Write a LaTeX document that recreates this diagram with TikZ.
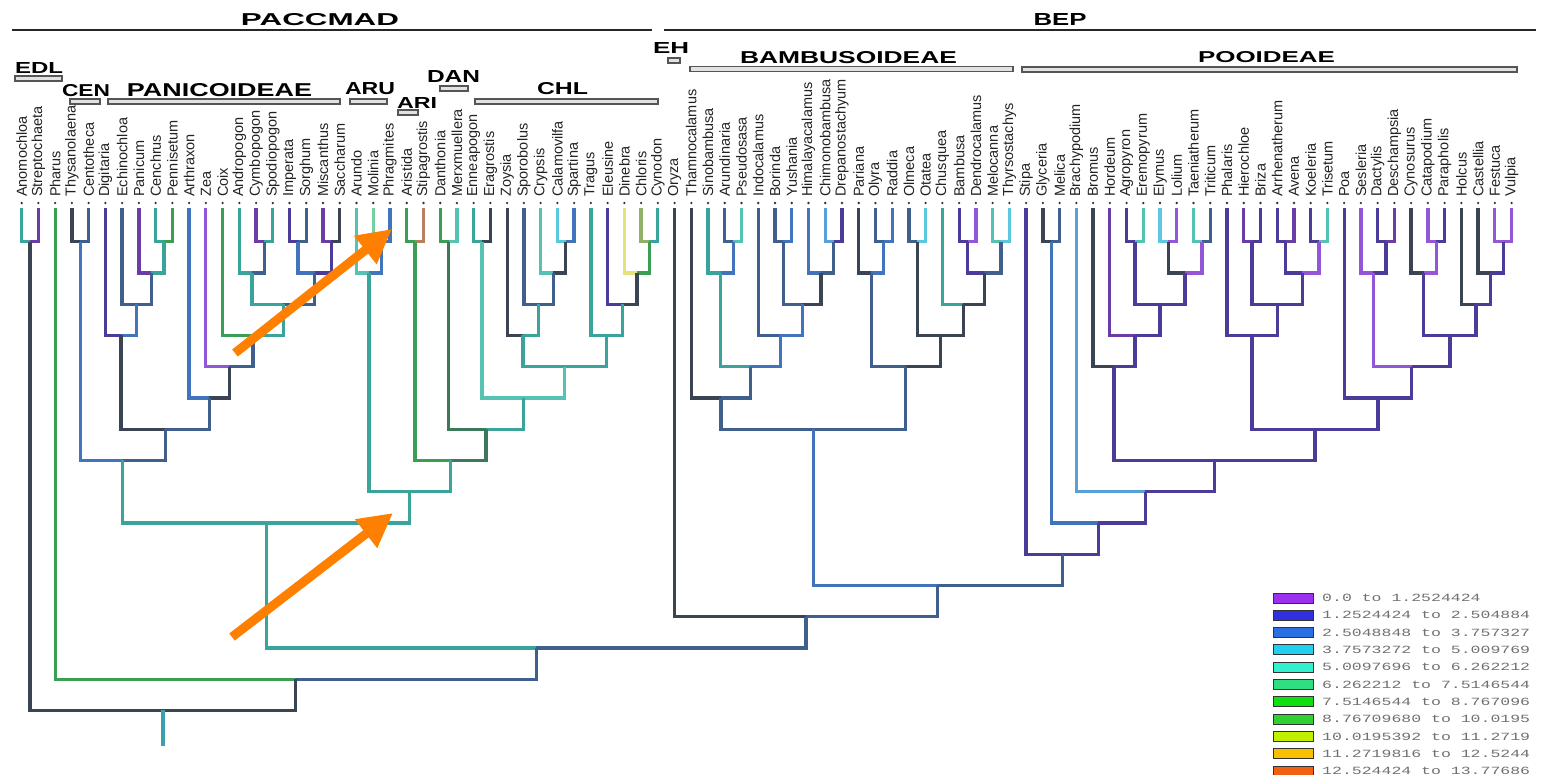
\documentclass[tikz,border=0pt]{standalone}
\usepackage{fontspec}
\setmainfont{Liberation Sans}
\newfontfamily\legfont{Liberation Mono}
\usetikzlibrary{arrows.meta}
\definecolor{cslate}{HTML}{3C4F63}
\definecolor{csblue}{HTML}{3F5F8F}
\definecolor{cblue}{HTML}{4274BB}
\definecolor{clblue}{HTML}{5AA0D8}
\definecolor{ccyan}{HTML}{5CC8E0}
\definecolor{cteal}{HTML}{3AA39A}
\definecolor{clteal}{HTML}{56C2B4}
\definecolor{cgreen}{HTML}{3C9E52}
\definecolor{cdgreen}{HTML}{3A7A5A}
\definecolor{clgreen}{HTML}{74D0A0}
\definecolor{cpurple}{HTML}{6A3DA6}
\definecolor{cviolet}{HTML}{9356D6}
\definecolor{cindigo}{HTML}{4A3C98}
\definecolor{cdslate}{HTML}{3A4452}
\definecolor{cyellow}{HTML}{E6E27A}
\definecolor{colive}{HTML}{90B06A}
\definecolor{cbrown}{HTML}{B88060}
\definecolor{croot}{HTML}{3AA0B0}
\definecolor{labgray}{HTML}{222222}
\definecolor{leggray}{HTML}{707070}
\definecolor{barfill}{HTML}{E2E2E2}
\definecolor{bargray}{HTML}{555555}
\definecolor{arrorange}{HTML}{FF8000}
\definecolor{lg1}{HTML}{9A30F0}
\definecolor{lg2}{HTML}{3030E0}
\definecolor{lg3}{HTML}{2A70E0}
\definecolor{lg4}{HTML}{20D0F0}
\definecolor{lg5}{HTML}{30F0D0}
\definecolor{lg6}{HTML}{30E080}
\definecolor{lg7}{HTML}{10E010}
\definecolor{lg8}{HTML}{30D030}
\definecolor{lg9}{HTML}{C0F000}
\definecolor{lg10}{HTML}{F8C000}
\definecolor{lg11}{HTML}{F06010}
\tikzset{
  br/.style={line width=3.3pt, line join=miter},
  tiplab/.style={rotate=90, anchor=west, inner sep=0pt, text=labgray, font=\fontsize{14.5}{16}\selectfont},
  grp/.style={inner sep=0pt, font=\bfseries, text=black},
  grpbar/.style={draw=bargray, fill=barfill, line width=1.3pt},
  hl/.style={line width=2.6pt, draw=black!85},
  legbox/.style={draw=black!80, line width=1pt, minimum width=40pt, minimum height=10pt, inner sep=0pt},
  legtxt/.style={anchor=west, inner sep=0pt, text=leggray, font=\legfont\fontsize{11}{12}\selectfont},
  orarrow/.style={draw=arrorange, line width=9pt, -{Triangle[length=34pt,width=34pt]}}
}
\newcommand\Tp[2]{\node[tiplab] (t#1) at (#1,197) {#2};\fill[black!80] (#1,203) circle[radius=1.3pt];\coordinate (a#1) at (#1,208);}
\newcommand\Nd[3]{\coordinate (#1) at (#2,{241.7+31.25*#3});}
\newcommand\Ed[3]{\draw[br,#1] (#2) |- (#3);}
\begin{document}
\begin{tikzpicture}[x=1pt,y=-1pt]
\useasboundingbox (0,0) rectangle (1544,774);
% ---------- headers ----------
\node[grp] (hpacc) at (320,19.5) {\resizebox{158pt}{12pt}{PACCMAD}};
\node[grp] (hbep) at (1060,19.5) {\resizebox{53pt}{12pt}{BEP}};
\coordinate (hl1a) at (12,30); \coordinate (hl1b) at (652,30);
\coordinate (hl2a) at (664,30); \coordinate (hl2b) at (1536,30);
\draw[hl] (hl1a) -- (hl1b);
\draw[hl] (hl2a) -- (hl2b);
\node[grp] (gedl) at (39,67.5) {\resizebox{48pt}{11pt}{EDL}};
\draw[grpbar] (15,76) rectangle (62,81);
\node[grp] (gcen) at (86,91) {\resizebox{48pt}{12pt}{CEN}};
\draw[grpbar] (70,99) rectangle (100,104);
\node[grp] (gpan) at (219.5,90) {\resizebox{185pt}{13pt}{PANICOIDEAE}};
\draw[grpbar] (108,99) rectangle (340,104);
\node[grp] (garu) at (370,89) {\resizebox{50pt}{12pt}{ARU}};
\draw[grpbar] (350,99) rectangle (387,104);
\node[grp] (gari) at (417,102.5) {\resizebox{40pt}{11pt}{ARI}};
\draw[grpbar] (398,110) rectangle (418,115);
\node[grp] (gdan) at (453.5,76) {\resizebox{53pt}{12pt}{DAN}};
\draw[grpbar] (440,86) rectangle (468,91);
\node[grp] (gchl) at (562.5,89) {\resizebox{51pt}{12pt}{CHL}};
\draw[grpbar] (475,99) rectangle (658,104);
\node[grp] (geh) at (671,48) {\resizebox{36pt}{11pt}{EH}};
\draw[grpbar] (668,58) rectangle (680,63);
\node[grp] (gbam) at (848.5,58) {\resizebox{217pt}{12pt}{BAMBUSOIDEAE}};
\draw[grpbar] (690,66.5) rectangle (1013,71.5);
\node[grp] (gpoo) at (1266.5,57.5) {\resizebox{137pt}{11pt}{POOIDEAE}};
\draw[grpbar] (1022,67) rectangle (1517,72);
% ---------- tree ----------
\begin{scope}[x=16.74pt, xshift=4.96pt]
\Tp{1}{Anomochloa}\Tp{2}{Streptochaeta}\Tp{3}{Pharus}\Tp{4}{Thysanolaena}\Tp{5}{Centotheca}
\Tp{6}{Digitaria}\Tp{7}{Echinochloa}\Tp{8}{Panicum}\Tp{9}{Cenchrus}\Tp{10}{Pennisetum}
\Tp{11}{Arthraxon}\Tp{12}{Zea}\Tp{13}{Coix}\Tp{14}{Andropogon}\Tp{15}{Cymbopogon}
\Tp{16}{Spodiopogon}\Tp{17}{Imperata}\Tp{18}{Sorghum}\Tp{19}{Miscanthus}\Tp{20}{Saccharum}
\Tp{21}{Arundo}\Tp{22}{Molinia}\Tp{23}{Phragmites}\Tp{24}{Aristida}\Tp{25}{Stipagrostis}
\Tp{26}{Danthonia}\Tp{27}{Merxmuellera}\Tp{28}{Enneapogon}\Tp{29}{Eragrostis}\Tp{30}{Zoysia}
\Tp{31}{Sporobolus}\Tp{32}{Crypsis}\Tp{33}{Calamovilfa}\Tp{34}{Spartina}\Tp{35}{Tragus}
\Tp{36}{Eleusine}\Tp{37}{Dinebra}\Tp{38}{Chloris}\Tp{39}{Cynodon}\Tp{40}{Oryza}
\Tp{41}{Thamnocalamus}\Tp{42}{Sinobambusa}\Tp{43}{Arundinaria}\Tp{44}{Pseudosasa}\Tp{45}{Indocalamus}
\Tp{46}{Borinda}\Tp{47}{Yushania}\Tp{48}{Himalayacalamus}\Tp{49}{Chimonobambusa}\Tp{50}{Drepanostachyum}
\Tp{51}{Pariana}\Tp{52}{Olyra}\Tp{53}{Raddia}\Tp{54}{Olmeca}\Tp{55}{Otatea}
\Tp{56}{Chusquea}\Tp{57}{Bambusa}\Tp{58}{Dendrocalamus}\Tp{59}{Melocanna}\Tp{60}{Thyrsostachys}
\Tp{61}{Stipa}\Tp{62}{Glyceria}\Tp{63}{Melica}\Tp{64}{Brachypodium}\Tp{65}{Bromus}
\Tp{66}{Hordeum}\Tp{67}{Agropyron}\Tp{68}{Eremopyrum}\Tp{69}{Elymus}\Tp{70}{Lolium}
\Tp{71}{Taeniatherum}\Tp{72}{Triticum}\Tp{73}{Phalaris}\Tp{74}{Hierochloe}\Tp{75}{Briza}
\Tp{76}{Arrhenatherum}\Tp{77}{Avena}\Tp{78}{Koeleria}\Tp{79}{Trisetum}\Tp{80}{Poa}
\Tp{81}{Sesleria}\Tp{82}{Dactylis}\Tp{83}{Deschampsia}\Tp{84}{Cynosurus}\Tp{85}{Catapodium}
\Tp{86}{Parapholis}\Tp{87}{Holcus}\Tp{88}{Castellia}\Tp{89}{Festuca}\Tp{90}{Vulpia}
% internal nodes: PACCMAD
\Nd{nA}{1.5}{0}\Nd{nB}{4.5}{0}\Nd{nC}{9.5}{0}\Nd{nD}{8.75}{1}\Nd{nE}{7.875}{2}
\Nd{nF}{6.9375}{3}\Nd{nG}{15.5}{0}\Nd{nH}{14.75}{1}\Nd{nI}{17.5}{0}\Nd{nJ}{19.5}{0}
\Nd{nK}{18.5}{1}\Nd{nL}{16.625}{2}\Nd{nM}{14.8125}{3}\Nd{nN}{13.40625}{4}\Nd{nO}{12.203}{5}
\Nd{pan}{9.570}{6}\Nd{panc}{7.035}{7}
\Nd{aruA}{22.5}{0}\Nd{aru}{21.75}{1}\Nd{ari}{24.5}{0}\Nd{dan}{26.5}{0}
\Nd{chA}{28.5}{0}\Nd{chB}{33.5}{0}\Nd{chC}{32.75}{1}\Nd{chD}{31.875}{2}\Nd{chE}{30.9375}{3}
\Nd{chF}{38.5}{0}\Nd{chG}{37.75}{1}\Nd{chH}{36.875}{2}\Nd{chI}{35.9375}{3}\Nd{chl}{33.4375}{4}
\Nd{chJ}{30.96875}{5}\Nd{dc}{28.734}{6}\Nd{adc}{26.617}{7}\Nd{acd}{24.18}{8}\Nd{pacc}{15.61}{9}
% Bambusoideae
\Nd{bA}{43.5}{0}\Nd{bB}{42.75}{1}\Nd{bC}{46.5}{0}\Nd{bD}{49.5}{0}\Nd{bE}{48.75}{1}
\Nd{bF}{47.625}{2}\Nd{bG}{46.3125}{3}\Nd{bH}{44.53}{4}\Nd{bI}{42.766}{5}
\Nd{bJ}{52.5}{0}\Nd{bK}{51.75}{1}\Nd{bL}{54.5}{0}\Nd{bM}{57.5}{0}\Nd{bN}{59.5}{0}
\Nd{bO}{58.5}{1}\Nd{bP}{57.25}{2}\Nd{bQ}{55.875}{3}\Nd{bR}{53.8125}{4}\Nd{bamb}{48.289}{6}
% Pooideae
\Nd{pA}{62.5}{0}\Nd{pB}{67.5}{0}\Nd{pC}{69.5}{0}\Nd{pD}{71.5}{0}\Nd{pE}{70.5}{1}
\Nd{pF}{69}{2}\Nd{pG}{67.5}{3}\Nd{pH}{66.25}{4}\Nd{pI}{74.5}{0}\Nd{pJ}{76.5}{0}
\Nd{pK}{78.5}{0}\Nd{pL}{77.5}{1}\Nd{pM}{76}{2}\Nd{pN}{74.5}{3}\Nd{pO}{82.5}{0}
\Nd{pP}{81.75}{1}\Nd{pQ}{85.5}{0}\Nd{pR}{84.75}{1}\Nd{pS}{89.5}{0}\Nd{pT}{88.75}{1}
\Nd{pU}{87.875}{2}\Nd{pV}{86.3125}{3}\Nd{pW}{84.03}{4}\Nd{pX}{82.016}{5}\Nd{pY}{78.258}{6}
\Nd{pZ}{72.254}{7}\Nd{pAA}{68.127}{8}\Nd{pBB}{65.31}{9}\Nd{pooid}{63.16}{10}
\Nd{bp}{55.72}{11}\Nd{obp}{47.86}{12}\Nd{pb}{31.735}{13}\Nd{phpb}{17.37}{14}\Nd{root}{9.435}{15}
\coordinate (rootend) at (9.435,746);
% edges PACCMAD
\Ed{cteal}{a1}{nA}\Ed{cpurple}{a2}{nA}
\Ed{cdslate}{a4}{nB}\Ed{csblue}{a5}{nB}
\Ed{cteal}{a9}{nC}\Ed{cgreen}{a10}{nC}
\Ed{cpurple}{a8}{nD}\Ed{cteal}{nC}{nD}
\Ed{csblue}{a7}{nE}\Ed{csblue}{nD}{nE}
\Ed{cindigo}{a6}{nF}\Ed{cblue}{nE}{nF}
\Ed{cpurple}{a15}{nG}\Ed{cteal}{a16}{nG}
\Ed{cteal}{a14}{nH}\Ed{csblue}{nG}{nH}
\Ed{cindigo}{a17}{nI}\Ed{csblue}{a18}{nI}
\Ed{cpurple}{a19}{nJ}\Ed{cdslate}{a20}{nJ}
\Ed{cblue}{nI}{nK}\Ed{cindigo}{nJ}{nK}
\Ed{cteal}{nH}{nL}\Ed{csblue}{nK}{nL}
\Ed{cgreen}{a13}{nM}\Ed{cteal}{nL}{nM}
\Ed{cviolet}{a12}{nN}\Ed{csblue}{nM}{nN}
\Ed{cblue}{a11}{nO}\Ed{cdslate}{nN}{nO}
\Ed{cdslate}{nF}{pan}\Ed{csblue}{nO}{pan}
\Ed{cblue}{nB}{panc}\Ed{csblue}{pan}{panc}
\Ed{clgreen}{a22}{aruA}\Ed{cblue}{a23}{aruA}
\Ed{clteal}{a21}{aru}\Ed{cblue}{aruA}{aru}
\Ed{cgreen}{a24}{ari}\Ed{cbrown}{a25}{ari}
\Ed{cgreen}{a26}{dan}\Ed{clteal}{a27}{dan}
\Ed{cteal}{a28}{chA}\Ed{cdslate}{a29}{chA}
\Ed{ccyan}{a33}{chB}\Ed{cblue}{a34}{chB}
\Ed{clteal}{a32}{chC}\Ed{cdslate}{chB}{chC}
\Ed{csblue}{a31}{chD}\Ed{csblue}{chC}{chD}
\Ed{cdslate}{a30}{chE}\Ed{cteal}{chD}{chE}
\Ed{colive}{a38}{chF}\Ed{cteal}{a39}{chF}
\Ed{cyellow}{a37}{chG}\Ed{cgreen}{chF}{chG}
\Ed{cindigo}{a36}{chH}\Ed{cdslate}{chG}{chH}
\Ed{cteal}{a35}{chI}\Ed{cteal}{chH}{chI}
\Ed{cteal}{chE}{chl}\Ed{cteal}{chI}{chl}
\Ed{clteal}{chA}{chJ}\Ed{clteal}{chl}{chJ}
\Ed{cdgreen}{dan}{dc}\Ed{cteal}{chJ}{dc}
\Ed{cgreen}{ari}{adc}\Ed{cdgreen}{dc}{adc}
\Ed{cteal}{aru}{acd}\Ed{cteal}{adc}{acd}
\Ed{cteal}{panc}{pacc}\Ed{cteal}{acd}{pacc}
% edges Bambusoideae
\Ed{csblue}{a43}{bA}\Ed{clteal}{a44}{bA}
\Ed{cteal}{a42}{bB}\Ed{cblue}{bA}{bB}
\Ed{csblue}{a46}{bC}\Ed{cblue}{a47}{bC}
\Ed{clblue}{a49}{bD}\Ed{cindigo}{a50}{bD}
\Ed{cblue}{a48}{bE}\Ed{csblue}{bD}{bE}
\Ed{csblue}{bC}{bF}\Ed{cdslate}{bE}{bF}
\Ed{csblue}{a45}{bG}\Ed{cblue}{bF}{bG}
\Ed{cteal}{bB}{bH}\Ed{cblue}{bG}{bH}
\Ed{cdslate}{a41}{bI}\Ed{csblue}{bH}{bI}
\Ed{csblue}{a52}{bJ}\Ed{cblue}{a53}{bJ}
\Ed{cdslate}{a51}{bK}\Ed{cblue}{bJ}{bK}
\Ed{csblue}{a54}{bL}\Ed{ccyan}{a55}{bL}
\Ed{cindigo}{a57}{bM}\Ed{cviolet}{a58}{bM}
\Ed{clteal}{a59}{bN}\Ed{ccyan}{a60}{bN}
\Ed{cindigo}{bM}{bO}\Ed{csblue}{bN}{bO}
\Ed{cteal}{a56}{bP}\Ed{cdslate}{bO}{bP}
\Ed{cdslate}{bL}{bQ}\Ed{cdslate}{bP}{bQ}
\Ed{csblue}{bK}{bR}\Ed{cdslate}{bQ}{bR}
\Ed{csblue}{bI}{bamb}\Ed{csblue}{bR}{bamb}
% edges Pooideae
\Ed{cdslate}{a62}{pA}\Ed{csblue}{a63}{pA}
\Ed{cindigo}{a67}{pB}\Ed{clteal}{a68}{pB}
\Ed{ccyan}{a69}{pC}\Ed{cviolet}{a70}{pC}
\Ed{clteal}{a71}{pD}\Ed{csblue}{a72}{pD}
\Ed{cdslate}{pC}{pE}\Ed{cviolet}{pD}{pE}
\Ed{cindigo}{pB}{pF}\Ed{cindigo}{pE}{pF}
\Ed{cpurple}{a66}{pG}\Ed{cindigo}{pF}{pG}
\Ed{cdslate}{a65}{pH}\Ed{cindigo}{pG}{pH}
\Ed{cpurple}{a74}{pI}\Ed{cindigo}{a75}{pI}
\Ed{cindigo}{a76}{pJ}\Ed{cpurple}{a77}{pJ}
\Ed{cindigo}{a78}{pK}\Ed{clteal}{a79}{pK}
\Ed{cindigo}{pJ}{pL}\Ed{cviolet}{pK}{pL}
\Ed{cindigo}{pI}{pM}\Ed{cindigo}{pL}{pM}
\Ed{cindigo}{a73}{pN}\Ed{cindigo}{pM}{pN}
\Ed{cindigo}{a82}{pO}\Ed{cpurple}{a83}{pO}
\Ed{cviolet}{a81}{pP}\Ed{cindigo}{pO}{pP}
\Ed{cviolet}{a85}{pQ}\Ed{cindigo}{a86}{pQ}
\Ed{cdslate}{a84}{pR}\Ed{cviolet}{pQ}{pR}
\Ed{cviolet}{a89}{pS}\Ed{cviolet}{a90}{pS}
\Ed{cdslate}{a88}{pT}\Ed{cindigo}{pS}{pT}
\Ed{cdslate}{a87}{pU}\Ed{cindigo}{pT}{pU}
\Ed{cindigo}{pR}{pV}\Ed{cindigo}{pU}{pV}
\Ed{cviolet}{pP}{pW}\Ed{cindigo}{pV}{pW}
\Ed{cindigo}{a80}{pX}\Ed{cindigo}{pW}{pX}
\Ed{cindigo}{pN}{pY}\Ed{cindigo}{pX}{pY}
\Ed{cindigo}{pH}{pZ}\Ed{cindigo}{pY}{pZ}
\Ed{clblue}{a64}{pAA}\Ed{cindigo}{pZ}{pAA}
\Ed{cblue}{pA}{pBB}\Ed{cindigo}{pAA}{pBB}
\Ed{cindigo}{a61}{pooid}\Ed{cindigo}{pBB}{pooid}
% backbone
\Ed{cblue}{bamb}{bp}\Ed{csblue}{pooid}{bp}
\Ed{cdslate}{a40}{obp}\Ed{csblue}{bp}{obp}
\Ed{cteal}{pacc}{pb}\Ed{csblue}{obp}{pb}
\Ed{cgreen}{a3}{phpb}\Ed{csblue}{pb}{phpb}
\Ed{cdslate}{nA}{root}\Ed{cdslate}{phpb}{root}
\draw[br,croot] (root) -- (rootend);
\end{scope}
% ---------- arrows ----------
\coordinate (ar1s) at (235,353); \coordinate (ar1e) at (392,229);
\coordinate (ar2s) at (232,637); \coordinate (ar2e) at (393,513);
\draw[orarrow] (ar1s) -- (ar1e);
\draw[orarrow] (ar2s) -- (ar2e);
% ---------- legend ----------
\foreach \i/\t in {1/{0.0 to 1.2524424},2/{1.2524424 to 2.504884},3/{2.5048848 to 3.757327},
  4/{3.7573272 to 5.009769},5/{5.0097696 to 6.262212},6/{6.262212 to 7.5146544},
  7/{7.5146544 to 8.767096},8/{8.76709680 to 10.0195},9/{10.0195392 to 11.2719},
  10/{11.2719816 to 12.5244},11/{12.524424 to 13.77686}}{
  \node[legbox, fill=lg\i] (lb\i) at (1293,{598+17.3*(\i-1)}) {};
  \node[legtxt] (lt\i) at (1322,{598+17.3*(\i-1)}) {\scalebox{1.5}[1]{\t}};
}
\end{tikzpicture}
\end{document}
